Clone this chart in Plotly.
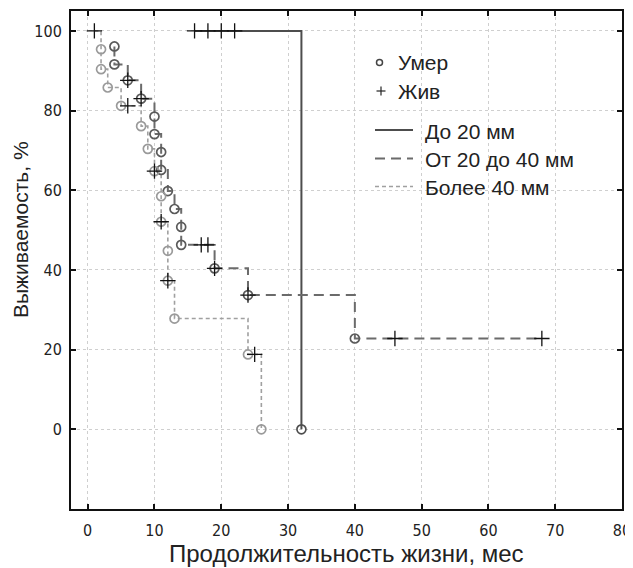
import plotly.graph_objects as go

# ---------------- data ----------------
# Group 1: "До 20 мм"
g1_time = [16, 18, 20, 22, 32]
g1_surv = [100, 100, 100, 100, 0]
g1_died = [0, 0, 0, 0, 1]

# Group 2: "От 20 до 40 мм"
g2_time = [4, 4, 6, 6, 8, 8, 10, 10, 11, 11, 12, 13, 14, 14, 17, 18, 19, 19, 24, 24, 40, 46, 68]
g2_surv = [96.1, 91.6, 87.6, 87.6, 83.0, 83.0, 78.5, 74.1, 69.6, 65.1, 59.8, 55.3, 50.8, 46.3,
           46.3, 46.3, 40.4, 40.4, 33.7, 33.7, 22.8, 22.8, 22.8]
g2_died = [1, 1, 1, 0, 1, 0, 1, 1, 1, 1, 1, 1, 1, 1, 0, 0, 1, 0, 1, 0, 1, 0, 0]

# Group 3: "Более 40 мм"
g3_time = [1, 2, 2, 3, 5, 6, 8, 9, 10, 10, 11, 11, 11, 12, 12, 12, 13, 24, 25, 26]
g3_surv = [100, 95.4, 90.4, 85.8, 81.2, 81.2, 76.1, 70.4, 64.8, 64.8, 58.5, 52.1, 52.1,
           44.8, 37.3, 37.3, 27.8, 18.8, 18.8, 0]
g3_died = [0, 1, 1, 1, 1, 0, 1, 1, 1, 0, 1, 1, 0, 1, 1, 0, 1, 1, 0, 1]

group_names = ["До 20 мм", "От 20 до 40 мм", "Более 40 мм"]
marker_names = ["Умер", "Жив"]
x_ticks = [0, 10, 20, 30, 40, 50, 60, 70, 80]
y_ticks = [0, 20, 40, 60, 80, 100]
x_title = "Продолжительность жизни, мес"
y_title = "Выживаемость, %"

groups = [
    dict(t=g1_time, s=g1_surv, d=g1_died, line="#4d4d4d", lw=2.0, dash="solid", circ="#4d4d4d"),
    dict(t=g2_time, s=g2_surv, d=g2_died, line="#6b6b6b", lw=2.0, dash="10px,6px", circ="#5a5a5a"),
    dict(t=g3_time, s=g3_surv, d=g3_died, line="#a0a0a0", lw=1.6, dash="4px,3px", circ="#9a9a9a"),
]

# the page body adds an 8px offset, so the figure is drawn 8px smaller
OFF = 8
W, H = 633 - OFF, 568 - OFF
ML, MR, MT, MB = 71 - OFF, 11, 11 - OFF, 59
PW, PH = W - ML - MR, H - MT - MB

fig = go.Figure()
for g in groups:
    fig.add_trace(go.Scatter(x=g["t"], y=g["s"], mode="lines", line_shape="hv",
                             line=dict(color=g["line"], width=g["lw"], dash=g["dash"]),
                             showlegend=False, hoverinfo="skip"))
for g in groups:
    dx = [t for t, d in zip(g["t"], g["d"]) if d == 1]
    dy = [s for s, d in zip(g["s"], g["d"]) if d == 1]
    fig.add_trace(go.Scatter(x=dx, y=dy, mode="markers",
                             marker=dict(symbol="circle-open", size=9, color=g["circ"],
                                         line=dict(width=1.7, color=g["circ"])),
                             showlegend=False))
for g in groups:
    cx = [t for t, d in zip(g["t"], g["d"]) if d == 0]
    cy = [s for s, d in zip(g["s"], g["d"]) if d == 0]
    fig.add_trace(go.Scatter(x=cx, y=cy, mode="markers",
                             marker=dict(symbol="cross-thin", size=11, color="#111",
                                         line=dict(width=1.3, color="#111")),
                             showlegend=False))


# helpers: page pixel -> paper coordinates
def px(x):
    return (x - OFF - ML) / PW


def py(y):
    return (H - MB - (y - OFF)) / PH


shapes = []
annotations = []
leg_font = dict(family="Liberation Sans, Arial, sans-serif", size=21, color="#222")
# legend: marker entries
shapes.append(dict(type="circle", xref="paper", yref="paper", xsizemode="pixel", ysizemode="pixel",
                   xanchor=px(379.5), yanchor=py(62.5), x0=-3, x1=3, y0=-3, y1=3,
                   line=dict(color="#444", width=1.5)))
shapes.append(dict(type="line", xref="paper", yref="paper", x0=px(376.5), x1=px(385.5),
                   y0=py(91), y1=py(91), line=dict(color="#222", width=1.2)))
shapes.append(dict(type="line", xref="paper", yref="paper", x0=px(381), x1=px(381),
                   y0=py(86.5), y1=py(95.5), line=dict(color="#222", width=1.2)))
annotations.append(dict(text=marker_names[0], xref="paper", yref="paper", x=px(396), y=py(63),
                        xanchor="left", yanchor="middle", showarrow=False, font=leg_font))
annotations.append(dict(text=marker_names[1], xref="paper", yref="paper", x=px(396), y=py(91),
                        xanchor="left", yanchor="middle", showarrow=False, font=leg_font))
for i, (g, yy) in enumerate(zip(groups, [130, 158.5, 186.5])):
    shapes.append(dict(type="line", xref="paper", yref="paper", x0=px(375), x1=px(413),
                       y0=py(yy), y1=py(yy),
                       line=dict(color=g["line"], width=g["lw"], dash=g["dash"])))
    annotations.append(dict(text=group_names[i], xref="paper", yref="paper", x=px(423), y=py(yy + 1),
                            xanchor="left", yanchor="middle", showarrow=False, font=leg_font))

title_font = dict(family="Liberation Sans, Arial, sans-serif", size=24, color="#222")
annotations.append(dict(text=x_title, xref="paper", yref="paper", x=0.5, y=py(553),
                        xanchor="center", yanchor="middle", showarrow=False, font=title_font))
annotations.append(dict(text=y_title, xref="paper", yref="y", x=px(20), y=50, textangle=-90,
                        xanchor="center", yanchor="middle", showarrow=False,
                        font=dict(family="Liberation Sans, Arial, sans-serif", size=21, color="#222")))

tick_font = dict(family="Liberation Sans Narrow, DejaVu Sans Condensed, Arial Narrow, sans-serif",
                 size=16, color="#222")
axis_common = dict(showline=True, linecolor="#111", linewidth=2, mirror="ticks",
                   ticks="inside", ticklen=5, tickwidth=2, tickcolor="#111",
                   showgrid=True, gridcolor="#cfcfcf", griddash="dot", gridwidth=1,
                   zeroline=False, tickfont=tick_font, automargin=False)
fig.update_xaxes(range=[-2.5, 80], tickvals=x_ticks, ticktext=[str(v) for v in x_ticks],
                 ticklabelstandoff=6, **axis_common)
fig.update_yaxes(range=[-20, 105], tickvals=y_ticks, ticktext=[str(v) for v in y_ticks],
                 ticklabelstandoff=4, **axis_common)
fig.update_layout(width=W, height=H, margin=dict(l=ML, r=MR, t=MT, b=MB, autoexpand=False),
                  paper_bgcolor="white", plot_bgcolor="white",
                  shapes=shapes, annotations=annotations, showlegend=False)
fig.write_html("out.html")
